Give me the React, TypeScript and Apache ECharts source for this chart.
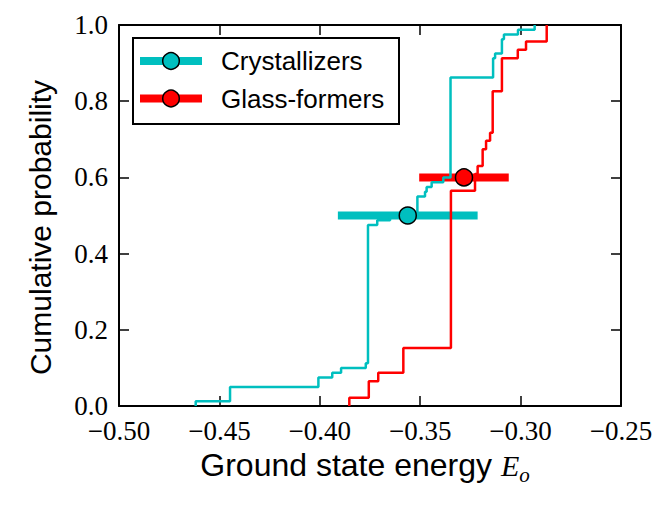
import React, { useEffect, useRef } from "react";
import * as echarts from "echarts";

// ---- data ----
const xTicks = [-0.5, -0.45, -0.4, -0.35, -0.3, -0.25];
const xTickLabels = ["\u22120.50", "\u22120.45", "\u22120.40", "\u22120.35", "\u22120.30", "\u22120.25"];
const yTicks = [0, 0.2, 0.4, 0.6, 0.8, 1.0];
const yTickLabels = ["0.0", "0.2", "0.4", "0.6", "0.8", "1.0"];

const seriesNames = ["Crystallizers", "Glass-formers"];

const crystallizerEnergy = [
  -0.4618, -0.4618, -0.4447, -0.4007, -0.3938, -0.3894, -0.3771, -0.376, -0.3714, -0.365,
  -0.3514, -0.3476, -0.3468, -0.3443, -0.3385, -0.3349, -0.3137, -0.3127, -0.3093, -0.3083,
  -0.3013, -0.293,
];
const crystallizerProb = [
  0, 0.0125, 0.05, 0.075, 0.0875, 0.1, 0.1125, 0.475, 0.4875, 0.5,
  0.55, 0.5625, 0.575, 0.5875, 0.6, 0.8625, 0.9125, 0.925, 0.9625, 0.975,
  0.9875, 1.0,
];

const glassEnergy = [
  -0.3853, -0.3853, -0.3756, -0.3709, -0.3584, -0.3347, -0.3227, -0.3214, -0.3189, -0.3172,
  -0.3152, -0.3139, -0.3093, -0.3014, -0.2973, -0.287,
];
const glassProb = [
  0, 0.0217, 0.0652, 0.087, 0.152, 0.565, 0.609, 0.63, 0.674, 0.696,
  0.717, 0.826, 0.913, 0.935, 0.957, 1.0,
];

const crystallizerMean = -0.3562;
const crystallizerErr = 0.0348;
const crystallizerLevel = 0.5;

const glassMean = -0.3282;
const glassErr = 0.0223;
const glassLevel = 0.6;

// ---- styles ----
const CYAN = "#00BFBF";
const RED = "#FF0000";
const SERIF = "'Liberation Serif', 'DejaVu Serif', serif";
const SANS = "'Liberation Sans', Arial, sans-serif";

function zip(xs: number[], ys: number[]) {
  return xs.map((x, i) => [x, ys[i]]);
}

function labelFor(ticks: number[], labels: string[]) {
  return (v: number) => {
    const i = ticks.findIndex((t) => Math.abs(t - v) < 1e-9);
    return i >= 0 ? labels[i] : "";
  };
}

function legendRow(y: number, color: string, name: string) {
  return [
    {
      type: "line",
      shape: { x1: 140, y1: y, x2: 202, y2: y },
      style: { stroke: color, lineWidth: 8 },
      z: 101,
    },
    {
      type: "circle",
      shape: { cx: 171, cy: y, r: 8.3 },
      style: { fill: color, stroke: "#000", lineWidth: 1.5 },
      z: 102,
    },
    {
      type: "text",
      x: 221,
      y: y,
      style: {
        text: name,
        font: `26px ${SANS}`,
        fill: "#000",
        verticalAlign: "middle",
      },
      z: 102,
    },
  ];
}

export default function App() {
  const ref = useRef<HTMLDivElement>(null);

  useEffect(() => {
    document.body.style.margin = "0";
    const chart = echarts.init(ref.current!, null, { renderer: "svg" });

    const axisLineStyle = { show: true, onZero: false, lineStyle: { color: "#000", width: 2 } };
    const tickStyle = { show: true, inside: true, length: 10, lineStyle: { color: "#000", width: 1.5 } };

    const option: any = {
      animation: false,
      backgroundColor: "#fff",
      grid: { left: 119, top: 25, width: 502, height: 381, containLabel: false },
      xAxis: [
        {
          type: "value",
          position: "bottom",
          min: -0.5,
          max: -0.25,
          interval: 0.05,
          axisLine: axisLineStyle,
          axisTick: tickStyle,
          splitLine: { show: false },
          axisLabel: {
            formatter: labelFor(xTicks, xTickLabels),
            fontFamily: SERIF,
            fontSize: 27,
            lineHeight: 20,
            color: "#000",
            margin: 15,
          },
          name: "{a|Ground state energy }{b|E}{c|o}",
          nameLocation: "middle",
          nameGap: 33,
          nameTextStyle: {
            padding: [0, 10, 0, 0],
            rich: {
              a: { fontFamily: SANS, fontSize: 32, color: "#000", lineHeight: 40 },
              b: { fontFamily: SERIF, fontStyle: "italic", fontSize: 30, color: "#000", lineHeight: 40 },
              c: {
                fontFamily: SERIF,
                fontStyle: "italic",
                fontSize: 21,
                color: "#000",
                lineHeight: 21,
                verticalAlign: "bottom",
              },
            },
          },
        },
        {
          type: "value",
          position: "top",
          min: -0.5,
          max: -0.25,
          interval: 0.05,
          axisLine: axisLineStyle,
          axisTick: tickStyle,
          splitLine: { show: false },
          axisLabel: { show: false },
        },
      ],
      yAxis: [
        {
          type: "value",
          position: "left",
          min: 0,
          max: 1,
          interval: 0.2,
          axisLine: axisLineStyle,
          axisTick: tickStyle,
          splitLine: { show: false },
          axisLabel: {
            formatter: labelFor(yTicks, yTickLabels),
            fontFamily: SERIF,
            fontSize: 27,
            lineHeight: 20,
            color: "#000",
            margin: 11,
          },
          name: "Cumulative probability",
          nameLocation: "middle",
          nameGap: 64,
          nameTextStyle: {
            fontFamily: SANS,
            fontSize: 30,
            color: "#000",
            padding: [0, 24, 0, 0],
          },
        },
        {
          type: "value",
          position: "right",
          min: 0,
          max: 1,
          interval: 0.2,
          axisLine: axisLineStyle,
          axisTick: tickStyle,
          splitLine: { show: false },
          axisLabel: { show: false },
        },
      ],
      series: [
        {
          name: seriesNames[0] + " error",
          type: "line",
          data: [
            [crystallizerMean - crystallizerErr, crystallizerLevel],
            [crystallizerMean + crystallizerErr, crystallizerLevel],
          ],
          showSymbol: false,
          symbol: "none",
          lineStyle: { color: CYAN, width: 8, cap: "butt" },
          z: 2,
        },
        {
          name: seriesNames[1] + " error",
          type: "line",
          data: [
            [glassMean - glassErr, glassLevel],
            [glassMean + glassErr, glassLevel],
          ],
          showSymbol: false,
          symbol: "none",
          lineStyle: { color: RED, width: 8, cap: "butt" },
          z: 2,
        },
        {
          name: seriesNames[0],
          type: "line",
          step: "end",
          data: zip(crystallizerEnergy, crystallizerProb),
          showSymbol: false,
          symbol: "none",
          lineStyle: { color: CYAN, width: 2.5 },
          z: 3,
        },
        {
          name: seriesNames[1],
          type: "line",
          step: "end",
          data: zip(glassEnergy, glassProb),
          showSymbol: false,
          symbol: "none",
          lineStyle: { color: RED, width: 2.5 },
          z: 3,
        },
        {
          name: seriesNames[0] + " mean",
          type: "scatter",
          data: [[crystallizerMean, crystallizerLevel]],
          symbol: "circle",
          symbolSize: 17,
          itemStyle: { color: CYAN, borderColor: "#000", borderWidth: 1.5, opacity: 1 },
          z: 4,
        },
        {
          name: seriesNames[1] + " mean",
          type: "scatter",
          data: [[glassMean, glassLevel]],
          symbol: "circle",
          symbolSize: 17,
          itemStyle: { color: RED, borderColor: "#000", borderWidth: 1.5, opacity: 1 },
          z: 4,
        },
      ],
      graphic: [
        {
          type: "rect",
          shape: { x: 133, y: 38, width: 266, height: 86 },
          style: { fill: "#fff", stroke: "#000", lineWidth: 2 },
          z: 100,
        },
        ...legendRow(61, CYAN, seriesNames[0]),
        ...legendRow(98.5, RED, seriesNames[1]),
      ],
    };

    chart.setOption(option);
    return () => chart.dispose();
  }, []);

  return <div ref={ref} style={{ width: 664, height: 508 }} />;
}
